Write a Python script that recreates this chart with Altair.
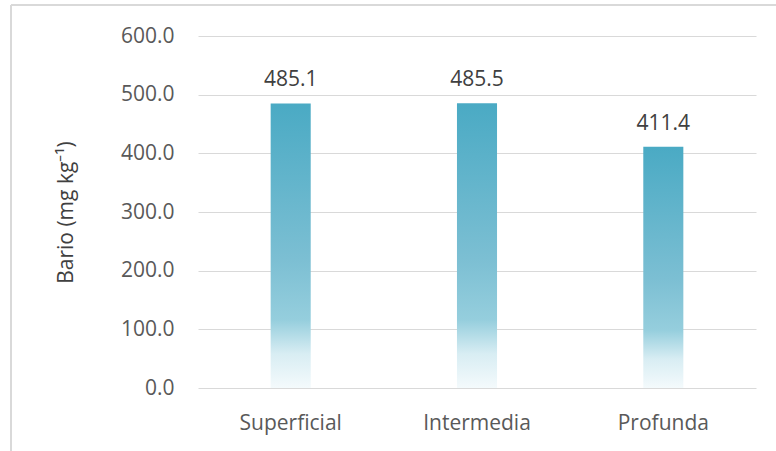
import altair as alt
import pandas as pd

# Bario concentration per depth layer
capas = ["Superficial", "Intermedia", "Profunda"]
bario = [485.1, 485.5, 411.4]
y_ticks = [0, 100, 200, 300, 400, 500, 600]

df = pd.DataFrame({"capa": capas, "bario": bario})

FONT = "Open Sans"
GRID = "#d9d9d9"

bar_fill = alt.Gradient(
    gradient="linear",
    x1=0, y1=0, x2=0, y2=1,
    stops=[
        alt.GradientStop(color="#4aaac4", offset=0),
        alt.GradientStop(color="#7cbfd3", offset=0.55),
        alt.GradientStop(color="#95cedd", offset=0.76),
        alt.GradientStop(color="#d8edf3", offset=0.88),
        alt.GradientStop(color="#f4fafc", offset=1),
    ],
)

x_enc = alt.X(
    "capa:N",
    sort=capas,
    title=None,
    scale=alt.Scale(paddingInner=0.785, paddingOuter=0.39),
    axis=alt.Axis(
        labelAngle=0,
        labelFont=FONT,
        labelFontSize=21,
        labelColor="#595959",
        labelPadding=24,
        ticks=False,
        domain=False,
        grid=False,
    ),
)
y_enc = alt.Y(
    "bario:Q",
    scale=alt.Scale(domain=[0, 600], nice=False),
    title="Bario (mg kg⁻¹)",
    axis=alt.Axis(
        values=y_ticks,
        format=".1f",
        labelFont=FONT,
        labelFontSize=21,
        labelColor="#595959",
        labelPadding=24,
        ticks=False,
        domain=False,
        gridColor=GRID,
        gridWidth=1,
        titleFont=FONT,
        titleFontSize=21,
        titleFontWeight="normal",
        titleColor="#404040",
        titlePadding=44,
    ),
)

bars = alt.Chart(df).mark_bar(color=bar_fill).encode(x=x_enc, y=y_enc)

labels = alt.Chart(df).mark_text(
    font=FONT, fontSize=21, color="#404040", baseline="bottom", dy=-13
).encode(
    x=alt.X("capa:N", sort=capas),
    y="bario:Q",
    text=alt.Text("bario:Q", format=".1f"),
)

# light outer frame (left and top edges)
frame_left = alt.Chart(df).mark_rule(color="#d9d9d9", strokeWidth=2).encode(
    x=alt.value(-187), y=alt.value(-31), y2=alt.value(420)
)
frame_top = alt.Chart(df).mark_rule(color="#d9d9d9", strokeWidth=2).encode(
    x=alt.value(-187), x2=alt.value(585), y=alt.value(-31)
)

chart = (
    alt.layer(bars, labels, frame_left, frame_top)
    .properties(
        width=558,
        height=352,
        background="white",
        autosize=alt.AutoSizeParams(type="none"),
        padding={"left": 198, "top": 36, "right": 20, "bottom": 63},
    )
    .configure_view(strokeWidth=0)
)

chart.save("out.html", embed_options={"renderer": "svg", "actions": False})
